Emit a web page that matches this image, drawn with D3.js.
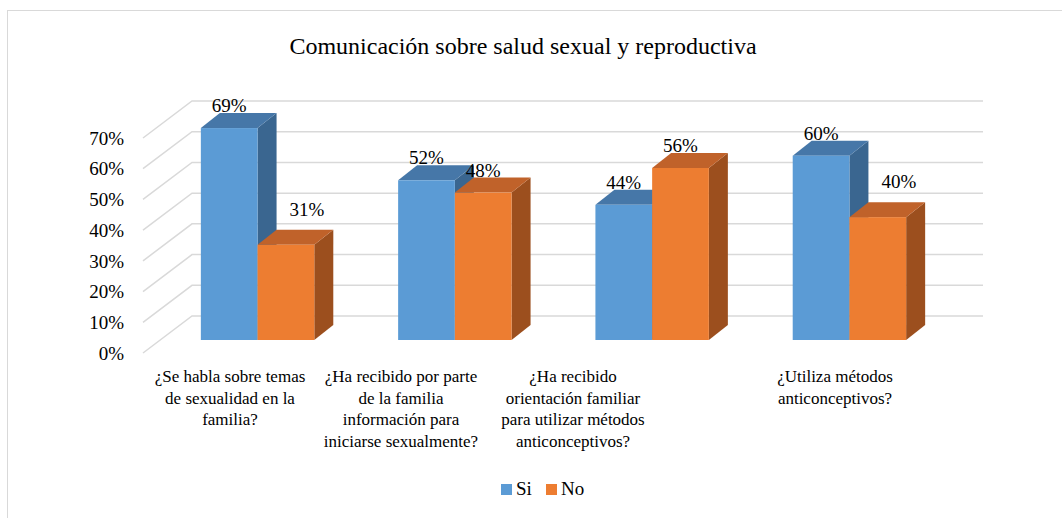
<!DOCTYPE html>
<html>
<head>
<meta charset="UTF-8">
<title>Comunicación sobre salud sexual y reproductiva</title>
<script src="https://d3js.org/d3.v7.min.js"></script>
<style>
  body { margin: 0; background: #fff; }
</style>
</head>
<body>
<div id="chart"></div>
<script>
  const categories = ["q1", "q2", "q3", "q4"];
  const categoryLines = [
    ["¿Se habla sobre temas", "de sexualidad en la", "familia?"],
    ["¿Ha recibido por parte", "de la familia", "información para", "iniciarse sexualmente?"],
    ["¿Ha recibido", "orientación familiar", "para utilizar métodos", "anticonceptivos?"],
    ["¿Utiliza métodos", "anticonceptivos?"]
  ];
  const series = ["Si", "No"];
  const siValues = [69, 52, 44, 60];
  const noValues = [31, 48, 56, 40];
  const yTicks = [0, 10, 20, 30, 40, 50, 60, 70];

  const width = 1062, height = 518;
  const depthX = 19, depthY = -15;      // bar depth
  const wallX = 49, wallY = -37;        // front axis -> back wall
  const labelCenters = [230, 401, 573, 835];
  const serif = '"Liberation Serif", "Times New Roman", Tinos, monospace';

  const colors = {
    Si: { front: "#5b9bd5", top: "#4677a8", side: "#3a6690" },
    No: { front: "#ed7d31", top: "#c0622a", side: "#9c4f1e" }
  };

  const svg = d3.select("#chart").append("svg")
    .attr("width", width).attr("height", height);

  svg.append("rect")
    .attr("x", 7.5).attr("y", 10.5)
    .attr("width", 1060).attr("height", 520)
    .attr("fill", "#fff").attr("stroke", "#d9d9d9");

  svg.append("text")
    .attr("x", 523).attr("y", 54)
    .attr("text-anchor", "middle")
    .style("font-family", serif)
    .style("font-size", "24px")
    .attr("fill", "#000")
    .text("Comunicación sobre salud sexual y reproductiva");

  const y = d3.scaleLinear().domain([0, 70]).range([340, 125]);
  const x = d3.scaleBand().domain(categories).range([117, 990]).paddingInner(0.425).paddingOuter(0.425);
  const xs = d3.scaleBand().domain(series).range([0, x.bandwidth()]);

  // grid: diagonal on left side wall + back wall lines
  const grid = svg.append("g").attr("stroke", "#d9d9d9").attr("stroke-width", 1.5).attr("fill", "none");
  yTicks.forEach(t => {
    const y0 = y(t) + 13;
    grid.append("path").attr("d", `M143,${y0}L${143 + wallX},${y0 + wallY}L983,${y0 + wallY}`);
  });

  // y axis labels
  svg.append("g").selectAll("text").data(yTicks).join("text")
    .attr("x", 124).attr("y", d => y(d) + 13)
    .attr("dy", "0.35em")
    .attr("text-anchor", "end")
    .style("font-family", serif)
    .style("font-size", "19px")
    .text(d => d + "%");

  const rows = categories.map((c, i) => ({ c, i, Si: siValues[i], No: noValues[i] }));
  const bars = [];
  rows.forEach(r => series.forEach(s => bars.push({ c: r.c, i: r.i, s, v: r[s], other: s === "No" ? r.Si : r.No })));

  const g = svg.append("g");
  bars.forEach(b => {
    const x0 = x(b.c) + xs(b.s), w = xs.bandwidth();
    const yt = y(b.v), yb = y(0);
    const col = colors[b.s];
    g.append("path")
      .attr("d", `M${x0 + w},${yt}L${x0 + w + depthX},${yt + depthY}L${x0 + w + depthX},${yb + depthY}L${x0 + w},${yb}Z`)
      .attr("fill", col.side);
    g.append("path")
      .attr("d", `M${x0},${yt}L${x0 + depthX},${yt + depthY}L${x0 + w + depthX},${yt + depthY}L${x0 + w},${yt}Z`)
      .attr("fill", col.top);
    g.append("rect")
      .attr("x", x0).attr("y", yt).attr("width", w).attr("height", yb - yt)
      .attr("fill", col.front);
  });

  // value labels
  svg.append("g").selectAll("text").data(bars).join("text")
    .attr("x", b => {
      const cx = x(b.c) + xs(b.s) + xs.bandwidth() / 2;
      return b.s === "No" && b.other - b.v > 10 ? cx + 21 : cx;
    })
    .attr("y", b => y(b.v) - (b.s === "No" && b.other - b.v > 10 ? 29 : 16))
    .attr("text-anchor", "middle")
    .style("font-family", serif)
    .style("font-size", "19px")
    .text(b => b.v + "%");

  // category labels
  categoryLines.forEach((lines, i) => {
    const t = svg.append("text").attr("x", labelCenters[i]).attr("y", 382)
      .attr("text-anchor", "middle")
      .style("font-family", serif).style("font-size", "17px");
    lines.forEach((ln, j) => t.append("tspan").attr("x", labelCenters[i]).attr("dy", j ? 21.5 : 0).text(ln));
  });

  // legend
  [["Si", 501], ["No", 546]].forEach(([s, lx]) => {
    svg.append("rect").attr("x", lx).attr("y", 484).attr("width", 11).attr("height", 11).attr("fill", colors[s].front);
    svg.append("text").attr("x", lx + 15).attr("y", 495)
      .style("font-family", serif).style("font-size", "19px").text(s);
  });
</script>
</body>
</html>
